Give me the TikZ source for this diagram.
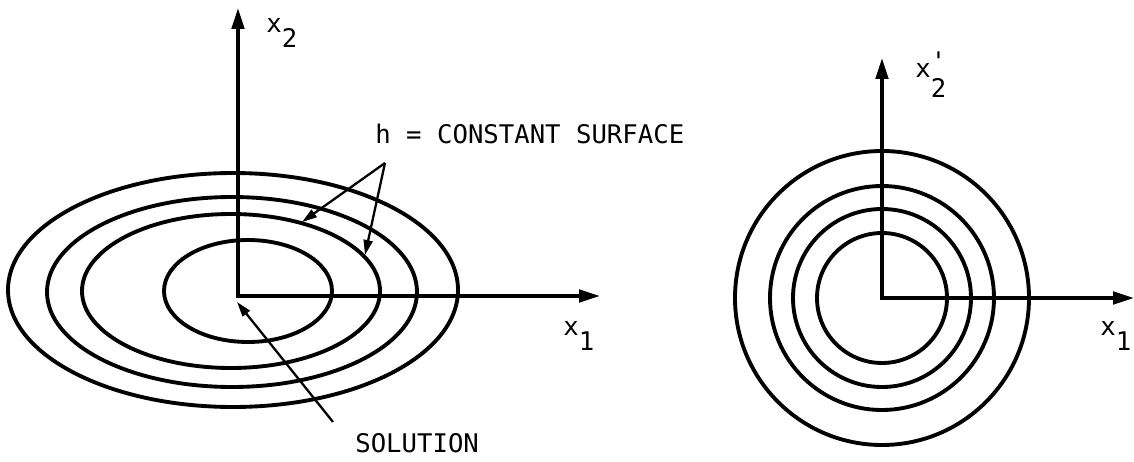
\documentclass[tikz,border=0pt]{standalone}
\usepackage{fontspec}
\setmonofont{DejaVu Sans Mono}
\usetikzlibrary{arrows.meta,positioning}

\begin{document}
\begin{tikzpicture}[x=0.02cm,y=0.02cm,
  axis/.style={line width=2pt,line join=miter,{Triangle[length=0.42cm,width=0.25cm]}-{Triangle[length=0.42cm,width=0.25cm]}},
  contour/.style={line width=2.2pt},
  pointer/.style={line width=1.3pt,-{Triangle[length=0.3cm,width=0.18cm]}},
  lbl/.style={inner sep=0pt,anchor=base west,font=\fontsize{14.6}{17}\selectfont\ttfamily}]
\useasboundingbox (0,0) rectangle (1134,461);
% left: ellipses
\coordinate (O1) at (238,165);
\coordinate (x2top) at (238,453);
\coordinate (x1end) at (600,165);
\draw[contour] (248,170) ellipse [x radius=84,y radius=51];
\draw[contour] (231,170) ellipse [x radius=149,y radius=77];
\draw[contour] (232,169) ellipse [x radius=185,y radius=95];
\draw[contour] (233,171) ellipse [x radius=225,y radius=117];
\draw[axis] (x2top) -- (O1) -- (x1end);
\node[lbl] (x2lbl) at (266,429) {x\raisebox{-0.6em}{2}};
\node[lbl] (x1lbl) at (563,126) {x\raisebox{-0.6em}{1}};
\node[lbl] (hlbl) at (375,318) {h = CONSTANT SURFACE};
\coordinate (apex) at (385,298);
\coordinate (hitA) at (302,239);
\coordinate (hitB) at (365,206);
\draw[pointer] (apex) -- (hitA);
\draw[pointer] (apex) -- (hitB);
\node[lbl] (sol) at (355,9) {SOLUTION};
\coordinate (solfoot) at (333,39);
\coordinate (soltip) at (237,159);
\draw[pointer] (solfoot) -- (soltip);
% right: circles
\coordinate (O2) at (882,163);
\coordinate (y2top) at (882,403);
\coordinate (y1end) at (1134,163);
\foreach \r in {65,89,112,147}
  \draw[contour] (O2) circle (\r);
\draw[axis] (y2top) -- (O2) -- (y1end);
\node[lbl] (x2plbl) at (915,384) {x\raisebox{-0.8em}{\makebox[0pt][l]{\raisebox{1.05em}{'}}2}};
\node[lbl] (x1rlbl) at (1100,126) {x\raisebox{-0.6em}{1}};
\end{tikzpicture}
\end{document}
